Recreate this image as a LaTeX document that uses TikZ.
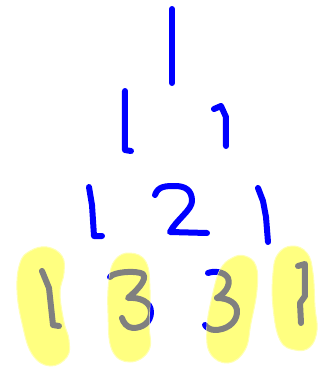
\documentclass[tikz,border=0pt]{standalone}
\definecolor{penblue}{RGB}{0,0,255}
\definecolor{pengray}{RGB}{128,128,128}
\definecolor{hilite}{RGB}{255,255,128}
\begin{document}
\begin{tikzpicture}[x=1pt,y=-1pt,
  ink/.style={line width=6pt,line cap=round,line join=round},
  blueink/.style={ink,draw=penblue},
  grayink/.style={ink,draw=pengray},
  blob/.style={fill=hilite,draw=hilite!60!white,line width=1pt}]
\useasboundingbox (0,0) rectangle (329,368);
\fill[white] (0,0) rectangle (329,368);
% row 1
\draw[blueink] (172,9) -- (172,83);
% row 2
\draw[blueink] (125,91) -- (125,150) -- (131,151);
\draw[blueink] (214,109) -- (221,106) -- (226,117) -- (226,146);
% row 3
\draw[blueink] (89,187) -- (92,205) -- (94,236) -- (102,236);
\draw[blueink] (155,195) .. controls (158,186) and (166,186) .. (175,186)
  .. controls (185,186) and (192,190) .. (192,201)
  .. controls (192,210) and (176,220) .. (170,232) -- (207,233);
\draw[blueink] (258,188) -- (263,201) -- (266,217) -- (268,242);
% row 4 (blue parts outside highlighter)
\def\dA{(42,271) -- (49,288) -- (53,325) -- (59,326)}
\def\dB{(110,277) .. controls (113,272) and (136,270) .. (143,274)
  .. controls (148,280) and (135,292) .. (128,298)
  .. controls (140,297) and (151,302) .. (151,312)
  .. controls (151,322) and (143,328) .. (133,328)
  .. controls (127,328) and (123,322) .. (122,318)}
\def\dC{(208,273) .. controls (213,271) and (224,271) .. (228,278)
  .. controls (231,286) and (224,294) .. (217,298)
  .. controls (228,298) and (238,303) .. (237,313)
  .. controls (236,324) and (225,330) .. (215,330)
  .. controls (210,330) and (206,327) .. (205,325)}
\def\dD{(298,266) -- (305,264) -- (305,296) -- (300,303) -- (301,323)}
\draw[blueink] \dA; \draw[blueink] \dB; \draw[blueink] \dC; \draw[blueink] \dD;
% highlighter blobs
\def\bA{plot[smooth cycle,tension=0.7] coordinates {(47,247) (62,256) (64,273) (60,293) (64,322) (69,340) (67,357) (50,366) (32,354) (22,323) (17,290) (20,263) (30,251)}}
\def\bB{plot[smooth cycle,tension=0.7] coordinates {(130,253) (146,262) (150,290) (149,323) (149,350) (130,362) (112,350) (108,313) (109,280) (115,260)}}
\def\bC{plot[smooth cycle,tension=0.7] coordinates {(245,256) (256,266) (257,290) (251,323) (245,350) (228,363) (210,353) (207,327) (212,297) (220,270) (232,258)}}
\def\bD{plot[smooth cycle,tension=0.7] coordinates {(292,246) (307,253) (313,273) (315,307) (317,330) (310,347) (295,350) (280,340) (273,307) (273,273) (278,254)}}
\path[blob] \bA; \path[blob] \bB; \path[blob] \bC; \path[blob] \bD;
% grey ink under the highlighter
\begin{scope}\clip \bA; \draw[grayink] \dA; \end{scope}
\begin{scope}\clip \bB; \draw[grayink] \dB; \end{scope}
\begin{scope}\clip \bC; \draw[grayink] \dC; \end{scope}
\begin{scope}\clip \bD; \draw[grayink] \dD; \end{scope}
\end{tikzpicture}
\end{document}
